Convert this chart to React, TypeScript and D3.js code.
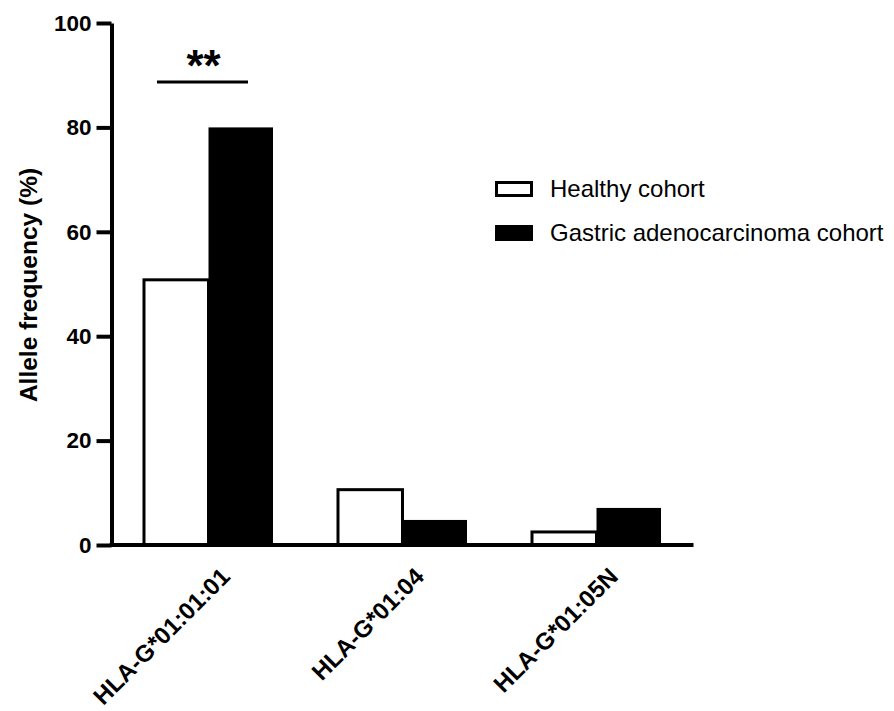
import React, { useEffect, useRef } from "react";
import * as d3 from "d3";

const categories = ["HLA-G*01:01:01", "HLA-G*01:04", "HLA-G*01:05N"];
const seriesNames = ["Healthy cohort", "Gastric adenocarcinoma cohort"];
const healthy = [50.8, 10.6, 2.5];
const gastric = [80, 4.8, 7.1];
const yTicks = [0, 20, 40, 60, 80, 100];

const FONT = "'Liberation Sans', Arial, Helvetica, sans-serif";

export default function App() {
  const ref = useRef<SVGSVGElement | null>(null);

  useEffect(() => {
    const svg = d3.select(ref.current);
    svg.selectAll("*").remove();

    const left = 111.5, right = 693.5, top = 23, bottom = 545;

    const x0 = d3
      .scaleBand()
      .domain(categories)
      .range([left, right])
      .paddingInner(0.335)
      .paddingOuter(0.335 / 2);

    const x1 = d3
      .scaleBand()
      .domain(seriesNames)
      .range([0, x0.bandwidth()]);

    const y = d3.scaleLinear().domain([0, 100]).range([bottom, top]);

    const rows = categories.map((c, i) => ({
      cat: c,
      values: [healthy[i], gastric[i]],
    }));

    // bars
    const g = svg.append("g");
    rows.forEach((r) => {
      r.values.forEach((v, j) => {
        g.append("rect")
          .attr("x", (x0(r.cat) as number) + (x1(seriesNames[j]) as number))
          .attr("y", y(v))
          .attr("width", x1.bandwidth())
          .attr("height", y(0) - y(v))
          .attr("fill", j === 0 ? "#fff" : "#000")
          .attr("stroke", "#000")
          .attr("stroke-width", j === 0 ? 3 : 0);
      });
    });

    // y axis
    const yAxis = svg
      .append("g")
      .attr("transform", `translate(${left},0)`)
      .call(
        d3
          .axisLeft(y)
          .tickValues(yTicks)
          .tickSize(15)
          .tickPadding(5)
          .tickSizeOuter(0)
      );
    yAxis.select(".domain").attr("stroke-width", 4).attr("stroke", "#000");
    yAxis.selectAll(".tick line").attr("stroke-width", 4).attr("stroke", "#000");
    yAxis
      .selectAll(".tick text")
      .attr("fill", "#000")
      .style("font-family", FONT)
      .style("font-size", "22.5px")
      .style("font-weight", "bold");

    // x axis
    const xAxis = svg
      .append("g")
      .attr("transform", `translate(0,${bottom})`)
      .call(d3.axisBottom(x0).tickSize(0).tickSizeOuter(0));
    xAxis
      .select(".domain")
      .attr("d", `M${left - 2},0H${right}`)
      .attr("stroke-width", 4)
      .attr("stroke", "#000");
    xAxis
      .selectAll(".tick text")
      .attr("x", 0)
      .attr("y", 0)
      .attr("dy", null)
      .attr("text-anchor", "end")
      .attr("transform", "translate(23,33) rotate(-45)")
      .attr("fill", "#000")
      .style("font-family", FONT)
      .style("font-size", "24px")
      .style("font-weight", "bold");

    // y axis title
    svg
      .append("text")
      .attr("transform", `translate(37,285) rotate(-90)`)
      .attr("text-anchor", "middle")
      .style("font-family", FONT)
      .style("font-size", "24.5px")
      .style("font-weight", "bold")
      .text("Allele frequency (%)");

    // significance bracket
    const c0 = x0(categories[0]) as number;
    svg
      .append("line")
      .attr("x1", c0 + 13)
      .attr("x2", c0 + x0.bandwidth() - 25)
      .attr("y1", 82)
      .attr("y2", 82)
      .attr("stroke", "#000")
      .attr("stroke-width", 3);
    svg
      .append("text")
      .attr("x", c0 + x0.bandwidth() / 2 - 5)
      .attr("y", 81)
      .attr("text-anchor", "middle")
      .style("font-family", FONT)
      .style("font-size", "44px")
      .style("font-weight", "bold")
      .text("**");

    // legend
    const legend = svg.append("g").attr("transform", "translate(495,181)");
    seriesNames.forEach((s, i) => {
      const row = legend.append("g").attr("transform", `translate(0,${i * 44})`);
      row
        .append("rect")
        .attr("x", 1.5)
        .attr("y", 1.5)
        .attr("width", 35)
        .attr("height", 13)
        .attr("fill", i === 0 ? "#fff" : "#000")
        .attr("stroke", "#000")
        .attr("stroke-width", 3);
      row
        .append("text")
        .attr("x", 55)
        .attr("y", 16)
        .style("font-family", FONT)
        .style("font-size", "24px")
        .text(s);
    });
  }, []);

  return (
    <svg
      ref={ref}
      width={894}
      height={711}
      style={{ position: "absolute", left: 0, top: 0, background: "#fff" }}
    />
  );
}
